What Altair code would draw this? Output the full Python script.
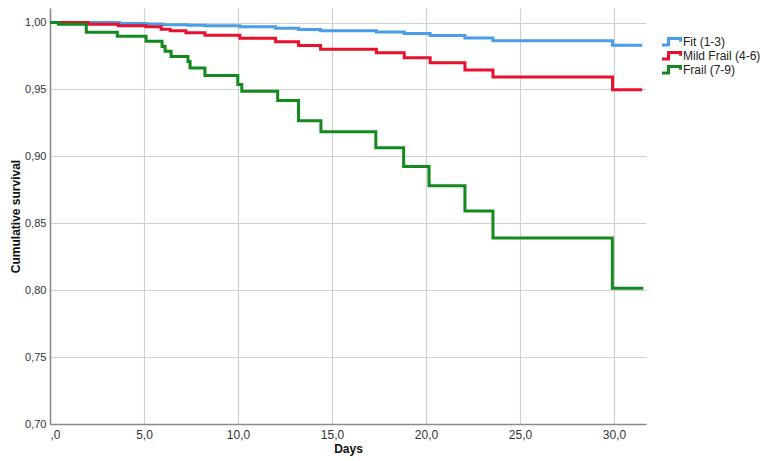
import altair as alt
import pandas as pd

# Kaplan-Meier step curves (day, cumulative survival)
fit_days = [0, 3.7, 5.11, 6.01, 7.34, 8.24, 10.10, 12.00, 13.22, 14.39, 17.36, 18.84, 20.22, 22.07, 23.56, 29.92, 31.5]
fit_surv = [1.0, 0.9994, 0.9989, 0.9984, 0.9980, 0.9976, 0.9969, 0.9957, 0.9949, 0.9939, 0.9929, 0.9918, 0.9903, 0.9884, 0.9865, 0.9831, 0.9831]

mild_days = [0, 2.04, 3.63, 5.11, 5.91, 6.39, 7.23, 8.24, 10.10, 12.00, 13.22, 14.39, 17.36, 18.84, 20.22, 22.07, 23.56, 29.92, 31.5]
mild_surv = [1.0, 0.9987, 0.9976, 0.9969, 0.9951, 0.9939, 0.9924, 0.9906, 0.9882, 0.9856, 0.9829, 0.9801, 0.9774, 0.9738, 0.9700, 0.9646, 0.9594, 0.9498, 0.9498]

frail_days = [0, 0.45, 1.93, 3.58, 5.11, 5.96, 6.12, 6.44, 7.34, 7.45, 8.24, 9.99, 10.20, 12.11, 13.22, 14.41, 17.33, 18.81, 20.16, 22.07, 23.56, 29.91, 31.56]
frail_surv = [1.0, 0.9987, 0.9927, 0.9897, 0.9860, 0.9822, 0.9785, 0.9747, 0.9710, 0.9661, 0.9605, 0.9538, 0.9487, 0.9417, 0.9267, 0.9185, 0.9065, 0.8925, 0.8780, 0.8592, 0.8390, 0.8015, 0.8015]

groups = ["Fit (1-3)", "Mild Frail (4-6)", "Frail (7-9)"]
colors = ["#4A9EE8", "#E8112D", "#138A1E"]

rows = []
for g, ds, ss in zip(groups, [fit_days, mild_days, frail_days], [fit_surv, mild_surv, frail_surv]):
    for d, s in zip(ds, ss):
        rows.append({"Days": d, "Survival": s, "Group": g})
df = pd.DataFrame(rows)

x_ticks = [0, 5, 10, 15, 20, 25, 30]
y_ticks = [0.70, 0.75, 0.80, 0.85, 0.90, 0.95, 1.00]

chart = alt.Chart(df).mark_line(interpolate="step-after", strokeWidth=3).encode(
    x=alt.X("Days:Q",
            scale=alt.Scale(domain=[0, 31.7], nice=False, zero=False),
            axis=alt.Axis(values=x_ticks, title="Days",
                          labelExpr="datum.value == 0 ? ',0' : replace(format(datum.value, '.1f'), '.', ',')",
                          ticks=False, labelPadding=5, titlePadding=3)),
    y=alt.Y("Survival:Q",
            scale=alt.Scale(domain=[0.70, 1.0109], nice=False, zero=False),
            axis=alt.Axis(values=y_ticks, title="Cumulative survival",
                          labelExpr="replace(format(datum.value, '.2f'), '.', ',')",
                          labelFontSize=11,
                          ticks=False, labelPadding=4, titlePadding=2)),
    color=alt.Color("Group:N",
                    scale=alt.Scale(domain=groups, range=colors),
                    sort=groups,
                    legend=alt.Legend(title=None, orient="none", legendX=612, legendY=27,
                                      symbolType="M-1.5,0.5L-0.3,0.5L-0.3,-0.5L1.5,-0.5L1.5,0",
                                      symbolSize=180, symbolStrokeWidth=3,
                                      symbolFillColor="transparent",
                                      labelFontSize=12, labelColor="#222222",
                                      clipHeight=13.5,
                                      rowPadding=0, labelOffset=4, padding=0)),
    order=alt.Order("Days:Q"),
).properties(
    width=596,
    height=416,
    autosize=alt.AutoSizeParams(type="none"),
    padding={"left": 42, "top": 0, "right": 125, "bottom": 36},
).configure_view(
    stroke=None
).configure_axis(
    labelFont="Liberation Sans",
    titleFont="Liberation Sans",
    labelFontSize=12,
    titleFontSize=12,
    labelColor="#333333",
    titleColor="#111111",
    titleFontWeight="bold",
    gridColor="#d0d0d0",
    gridWidth=1.2,
    domainColor="#8a8a8a",
    domainWidth=1.5,
).configure_legend(
    labelFont="Liberation Sans"
)

chart.save("out.html", embed_options={"renderer": "svg", "actions": False})
